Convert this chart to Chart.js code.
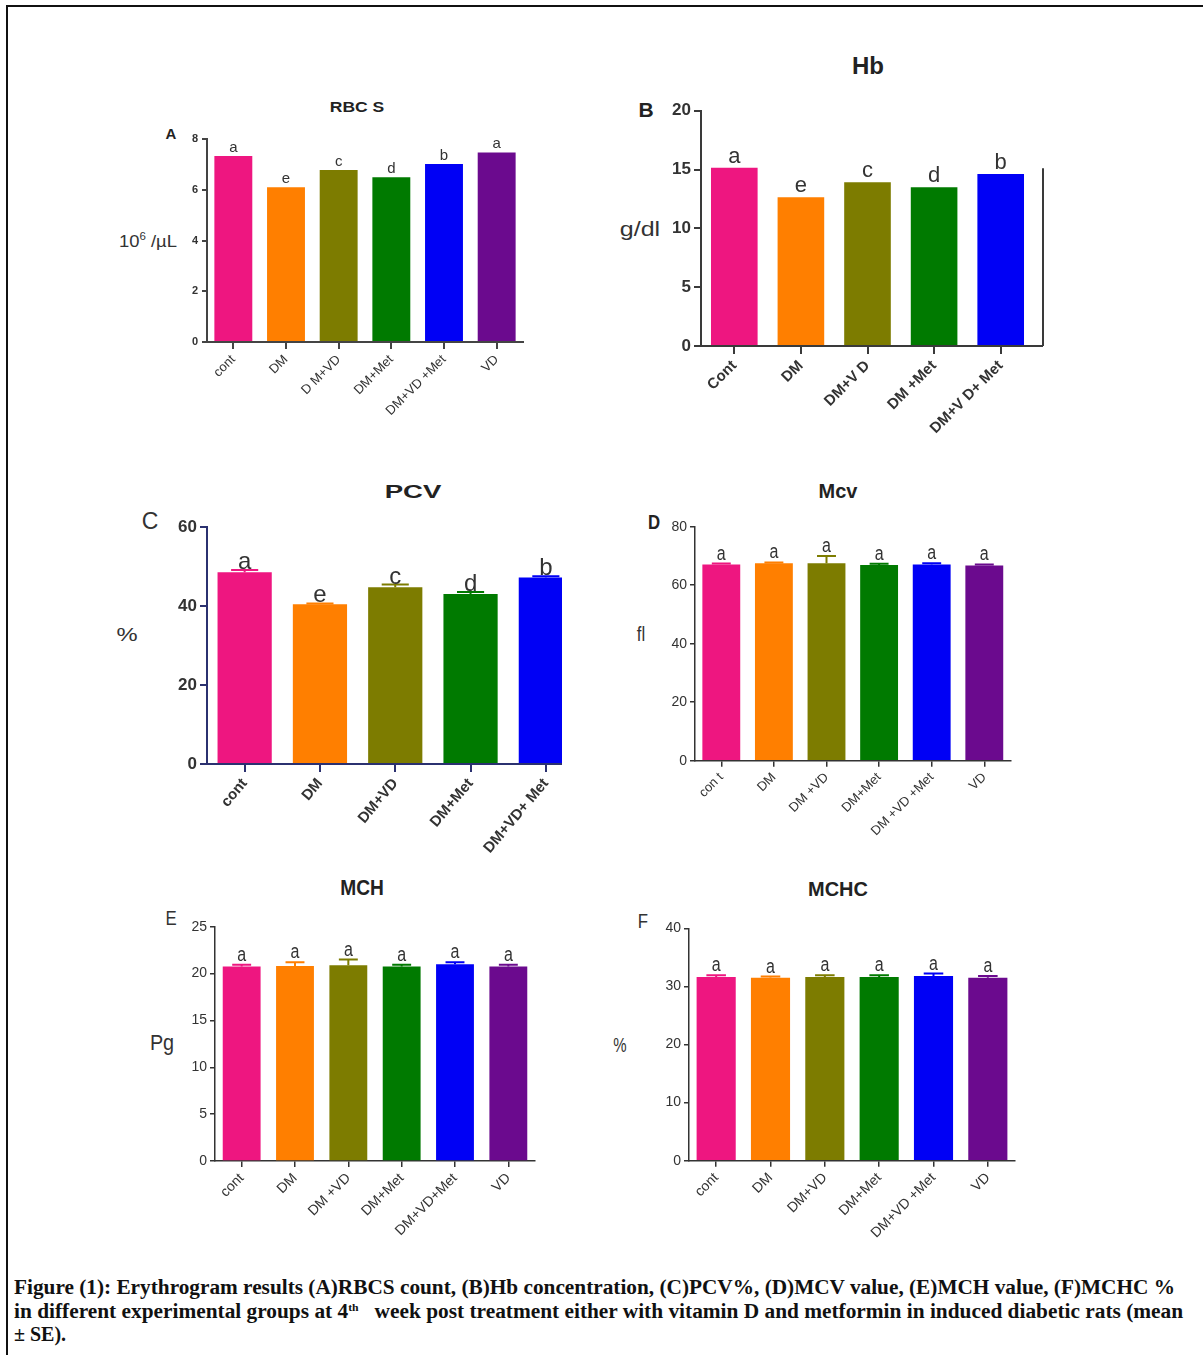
<!DOCTYPE html>
<html>
<head>
<meta charset="utf-8">
<title>Erythrogram results</title>
<script src="https://cdn.jsdelivr.net/npm/chart.js@4.4.1/dist/chart.umd.min.js"></script>
<style>
  html, body { margin: 0; padding: 0; background: #fff; }
  body { width: 1203px; height: 1355px; position: relative; overflow: hidden;
         font-family: 'Liberation Sans', Arial, sans-serif; color: #222; }
  .frame { position: absolute; left: 6px; top: 5px; right: -10px; bottom: -10px;
           border-top: 2px solid #111; border-left: 2px solid #111; }
  .box { position: absolute; overflow: hidden; }
  .box canvas { position: absolute; left: 0; top: 0; }
  .txt { position: absolute; transform: translate(-50%, -50%); white-space: nowrap; line-height: 1; color: #222; }
  .caption { position: absolute; left: 14px; font-family: 'Liberation Serif', 'DejaVu Serif', serif;
             font-weight: bold; font-size: 20px; white-space: nowrap; color: #111;
             transform-origin: left center; line-height: 1; }
  .caption sup { font-size: 11px; vertical-align: 7px; }
</style>
</head>
<body>
<div class="frame"></div>

<!-- panel titles, letters and y-axis units -->
<div class="txt" style="left:357px;top:107px;font-size:14px;font-weight:bold;transform:translate(-50%,-50%) scaleX(1.25);">RBC S</div>
<div class="txt" style="left:171px;top:133px;font-size:15px;font-weight:bold;">A</div>
<div class="txt" style="left:148px;top:241px;font-size:16px;color:#333;transform:translate(-50%,-50%) scaleX(1.15);">10<sup style="font-size:10px;">6</sup> /µL</div>

<div class="txt" style="left:868px;top:66px;font-size:24px;font-weight:bold;">Hb</div>
<div class="txt" style="left:646px;top:109px;font-size:21px;font-weight:bold;">B</div>
<div class="txt" style="left:640px;top:229px;font-size:20px;color:#333;transform:translate(-50%,-50%) scaleX(1.25);">g/dl</div>

<div class="txt" style="left:413px;top:491px;font-size:19px;font-weight:bold;transform:translate(-50%,-50%) scaleX(1.45);">PCV</div>
<div class="txt" style="left:150px;top:521px;font-size:23px;color:#333;">C</div>
<div class="txt" style="left:127px;top:634px;font-size:19px;color:#333;transform:translate(-50%,-50%) scaleX(1.25);">%</div>

<div class="txt" style="left:838px;top:490px;font-size:21px;font-weight:bold;transform:translate(-50%,-50%) scaleX(0.95);">Mcv</div>
<div class="txt" style="left:654px;top:521px;font-size:21px;font-weight:bold;transform:translate(-50%,-50%) scaleX(0.8);">D</div>
<div class="txt" style="left:641px;top:633px;font-size:21px;color:#333;transform:translate(-50%,-50%) scaleX(0.8);">fl</div>

<div class="txt" style="left:362px;top:888px;font-size:22px;font-weight:bold;transform:translate(-50%,-50%) scaleX(0.87);">MCH</div>
<div class="txt" style="left:171px;top:917px;font-size:21px;color:#333;transform:translate(-50%,-50%) scaleX(0.8);">E</div>
<div class="txt" style="left:162px;top:1043px;font-size:22px;color:#333;transform:translate(-50%,-50%) scaleX(0.9);">Pg</div>

<div class="txt" style="left:838px;top:888px;font-size:21px;font-weight:bold;transform:translate(-50%,-50%) scaleX(0.95);">MCHC</div>
<div class="txt" style="left:643px;top:920px;font-size:21px;color:#333;transform:translate(-50%,-50%) scaleX(0.8);">F</div>
<div class="txt" style="left:620px;top:1045px;font-size:20px;color:#333;transform:translate(-50%,-50%) scaleX(0.75);">%</div>

<!-- figure caption -->
<div class="caption" id="cap1" style="top:1277px;">Figure (1): Erythrogram results (A)RBCS count, (B)Hb concentration, (C)PCV%, (D)MCV value, (E)MCH value, (F)MCHC %</div>
<div class="caption" id="cap2" style="top:1301px;">in different experimental groups at 4<sup>th</sup>&nbsp;&nbsp; week post treatment either with vitamin D and metformin in induced diabetic rats (mean</div>
<div class="caption" id="cap3" style="top:1324px;">± SE).</div>

<script>
// Treatment group colours (cont, DM, DM+VD, DM+Met, DM+VD+Met, VD)
const groupColors = ['#ee1680', '#ff7f00', '#7d7c00', '#007a00', '#0000f5', '#6b0a8e'];

// (A) RBC count, 10^6/µL
const rbcLabels  = ['cont', 'DM', 'D M+VD', 'DM+Met', 'DM+VD +Met', 'VD'];
const rbcValues  = [7.33, 6.10, 6.78, 6.49, 7.01, 7.47];
const rbcLetters = ['a', 'e', 'c', 'd', 'b', 'a'];
const rbcTicks   = { max: 8, step: 2 };

// (B) Hb, g/dl
const hbLabels  = ['Cont', 'DM', 'DM+V D', 'DM +Met', 'DM+V D+ Met'];
const hbValues  = [15.15, 12.64, 13.91, 13.49, 14.62];
const hbLetters = ['a', 'e', 'c', 'd', 'b'];
const hbTicks   = { max: 20, step: 5 };
const hbRightRule = 15.1;

// (C) PCV, %
const pcvLabels  = ['cont', 'DM', 'DM+VD', 'DM+Met', 'DM+VD+ Met'];
const pcvValues  = [48.6, 40.5, 44.8, 43.1, 47.3];
const pcvSE      = [0.6, 0.2, 0.7, 0.5, 0.3];
const pcvLetters = ['a', 'e', 'c', 'd', 'b'];
const pcvTicks   = { max: 60, step: 20 };

// (D) MCV, fl
const mcvLabels  = ['con t', 'DM', 'DM +VD', 'DM+Met', 'DM +VD +Met', 'VD'];
const mcvValues  = [67.1, 67.5, 67.5, 66.9, 67.1, 66.7];
const mcvSE      = [0.3, 0.3, 2.5, 0.4, 0.4, 0.4];
const mcvLetters = ['a', 'a', 'a', 'a', 'a', 'a'];
const mcvTicks   = { max: 80, step: 20 };

// (E) MCH, pg
const mchLabels  = ['cont', 'DM', 'DM +VD', 'DM+Met', 'DM+VD+Met', 'VD'];
const mchValues  = [20.75, 20.8, 20.9, 20.75, 21.0, 20.75];
const mchSE      = [0.2, 0.4, 0.6, 0.2, 0.2, 0.2];
const mchLetters = ['a', 'a', 'a', 'a', 'a', 'a'];
const mchTicks   = { max: 25, step: 5 };

// (F) MCHC, %
const mchcLabels  = ['cont', 'DM', 'DM+VD', 'DM+Met', 'DM+VD +Met', 'VD'];
const mchcValues  = [31.6, 31.5, 31.6, 31.6, 31.8, 31.5];
const mchcSE      = [0.3, 0.2, 0.3, 0.3, 0.4, 0.3];
const mchcLetters = ['a', 'a', 'a', 'a', 'a', 'a'];
const mchcTicks   = { max: 40, step: 10 };

const SANS = "'Liberation Sans', Arial, sans-serif";

// Error bars, significance letters and the axis extension of panel B
const marksPlugin = {
  id: 'marks',
  afterDatasetsDraw(chart, args, opts) {
    const ctx = chart.ctx;
    const ds = chart.data.datasets[0];
    const meta = chart.getDatasetMeta(0);
    const y = chart.scales.y;
    meta.data.forEach((bar, i) => {
      const v = ds.data[i];
      let top = y.getPixelForValue(v);
      const se = opts.se ? opts.se[i] : 0;
      if (se) {
        const yt = y.getPixelForValue(v + se);
        const hw = bar.width * opts.capFrac / 2;
        ctx.save();
        ctx.strokeStyle = ds.backgroundColor[i];
        ctx.lineWidth = opts.errWidth;
        ctx.beginPath();
        ctx.moveTo(bar.x, top); ctx.lineTo(bar.x, yt);
        ctx.moveTo(bar.x - hw, yt); ctx.lineTo(bar.x + hw, yt);
        ctx.stroke();
        ctx.restore();
        top = yt;
      }
      if (opts.letters) {
        ctx.save();
        ctx.fillStyle = opts.letterColor;
        ctx.font = opts.letterFont;
        ctx.textAlign = 'center';
        ctx.textBaseline = 'alphabetic';
        ctx.translate(bar.x, top - opts.gap);
        ctx.scale(opts.letterScaleX || 1, 1);
        ctx.fillText(opts.letters[i], 0, 0);
        ctx.restore();
      }
    });
  },
  afterDraw(chart, args, opts) {
    if (!opts.axisExtend) return;
    const ctx = chart.ctx;
    const a = chart.chartArea;
    const y = chart.scales.y;
    const xr = a.right + opts.axisExtend;
    ctx.save();
    ctx.strokeStyle = opts.axisColor;
    ctx.lineWidth = opts.axisWidth;
    ctx.beginPath();
    ctx.moveTo(a.right - 1, a.bottom); ctx.lineTo(xr, a.bottom);
    ctx.moveTo(xr, a.bottom); ctx.lineTo(xr, y.getPixelForValue(opts.rightRule));
    ctx.stroke();
    ctx.restore();
  }
};

function makePanel(p) {
  const [bx, by, bw, bh] = p.box;
  const box = document.createElement('div');
  box.className = 'box';
  Object.assign(box.style, { left: bx + 'px', top: by + 'px', width: bw + 'px', height: bh + 'px' });
  const cv = document.createElement('canvas');
  const cw = p.canvasW || bw, ch = p.canvasH || bh;
  cv.width = cw; cv.height = ch;
  cv.style.width = cw + 'px'; cv.style.height = ch + 'px';
  box.appendChild(cv);
  document.body.appendChild(box);

  const padTop = p.area.t - by;
  const padRight = (bx + cw) - p.area.r;
  const yW = p.area.l - bx;
  const xH = (by + ch) - p.area.b;
  const n = p.labels.length;

  new Chart(cv, {
    type: 'bar',
    data: {
      labels: p.labels,
      datasets: [{
        data: p.values,
        backgroundColor: groupColors.slice(0, n),
        borderWidth: 0,
        barPercentage: p.barPct,
        categoryPercentage: 1
      }]
    },
    options: {
      responsive: false,
      animation: false,
      devicePixelRatio: 1,
      layout: { padding: { top: padTop, right: padRight, left: 0, bottom: 0 } },
      plugins: {
        legend: { display: false },
        tooltip: { enabled: false },
        title: { display: false },
        marks: Object.assign({
          se: p.se, letters: p.letters, letterFont: p.letterFont, letterColor: '#333',
          letterScaleX: p.letterScaleX, gap: p.gap, capFrac: 0.5, errWidth: 2
        }, p.extra || {})
      },
      scales: {
        x: {
          type: 'category',
          offset: true,
          grid: { display: true, drawOnChartArea: false, drawTicks: true, tickLength: p.xTick,
                  offset: false, color: p.axisColor, lineWidth: p.axisWidth },
          border: { display: true, color: p.axisColor, width: p.axisWidth },
          ticks: { autoSkip: false, maxRotation: p.rot, minRotation: p.rot, padding: p.xPad,
                   color: '#333', font: p.xFont },
          afterFit(s) { s.height = xH; }
        },
        y: {
          min: 0, max: p.ticks.max,
          grid: { display: true, drawOnChartArea: false, drawTicks: true, tickLength: p.yTick,
                  color: p.axisColor, lineWidth: p.axisWidth },
          border: { display: true, color: p.axisColor, width: p.axisWidth },
          ticks: { stepSize: p.ticks.step, padding: p.yPad, color: '#333', font: p.yFont },
          afterFit(s) { s.width = yW; }
        }
      }
    },
    plugins: [marksPlugin]
  });
}

makePanel({
  box: [100, 118, 440, 332], area: { l: 207, t: 139, r: 523, b: 342 },
  labels: rbcLabels, values: rbcValues, letters: rbcLetters, ticks: rbcTicks,
  barPct: 0.72, axisColor: '#444', axisWidth: 2, xTick: 7, yTick: 5, xPad: 3, yPad: 4, rot: 45,
  xFont: { family: SANS, size: 13 }, yFont: { family: SANS, size: 11, weight: 'bold' },
  letterFont: "15px " + SANS, gap: 4
});

makePanel({
  box: [600, 88, 460, 349], area: { l: 701, t: 110.7, r: 1034, b: 346 },
  labels: hbLabels, values: hbValues, letters: hbLetters, ticks: hbTicks,
  barPct: 0.7, axisColor: '#3a3a3a', axisWidth: 2, xTick: 8, yTick: 7, xPad: 3, yPad: 3, rot: 45,
  xFont: { family: SANS, size: 15, weight: 'bold' }, yFont: { family: SANS, size: 17, weight: 'bold' },
  letterFont: "22px " + SANS, gap: 5,
  extra: { axisExtend: 9, rightRule: hbRightRule, axisColor: '#3a3a3a', axisWidth: 2 }
});

makePanel({
  box: [100, 506, 462, 356], canvasW: 500, area: { l: 207, t: 527.3, r: 583.5, b: 764 },
  labels: pcvLabels, values: pcvValues, se: pcvSE, letters: pcvLetters, ticks: pcvTicks,
  barPct: 0.72, axisColor: '#2b3170', axisWidth: 2, xTick: 8, yTick: 7, xPad: 3, yPad: 3, rot: 50,
  xFont: { family: SANS, size: 15, weight: 'bold' }, yFont: { family: SANS, size: 17, weight: 'bold' },
  letterFont: "24px " + SANS, gap: 1
});

makePanel({
  box: [600, 506, 430, 355], area: { l: 695, t: 526.7, r: 1010.6, b: 760.7 },
  labels: mcvLabels, values: mcvValues, se: mcvSE, letters: mcvLetters, ticks: mcvTicks,
  barPct: 0.72, axisColor: '#333', axisWidth: 1.5, xTick: 6, yTick: 5, xPad: 3, yPad: 3, rot: 45,
  xFont: { family: SANS, size: 13 }, yFont: { family: SANS, size: 14 },
  letterFont: "20px " + SANS, letterScaleX: 0.8, gap: 4
});

makePanel({
  box: [130, 906, 430, 360], area: { l: 215, t: 926.7, r: 535, b: 1161 },
  labels: mchLabels, values: mchValues, se: mchSE, letters: mchLetters, ticks: mchTicks,
  barPct: 0.71, axisColor: '#333', axisWidth: 1.5, xTick: 6, yTick: 5, xPad: 3, yPad: 3, rot: 45,
  xFont: { family: SANS, size: 14 }, yFont: { family: SANS, size: 14 },
  letterFont: "20px " + SANS, letterScaleX: 0.8, gap: 4
});

makePanel({
  box: [600, 906, 430, 360], area: { l: 689, t: 928.3, r: 1015, b: 1160.7 },
  labels: mchcLabels, values: mchcValues, se: mchcSE, letters: mchcLetters, ticks: mchcTicks,
  barPct: 0.72, axisColor: '#333', axisWidth: 1.5, xTick: 6, yTick: 5, xPad: 3, yPad: 3, rot: 45,
  xFont: { family: SANS, size: 14 }, yFont: { family: SANS, size: 14 },
  letterFont: "20px " + SANS, letterScaleX: 0.8, gap: 4
});

// Stretch caption lines to the text block width
[['cap1', 1161], ['cap2', 1169]].forEach(([id, w]) => {
  const el = document.getElementById(id);
  const m = el.getBoundingClientRect().width;
  el.style.transform = 'scaleX(' + (w / m).toFixed(4) + ')';
});
</script>
</body>
</html>
